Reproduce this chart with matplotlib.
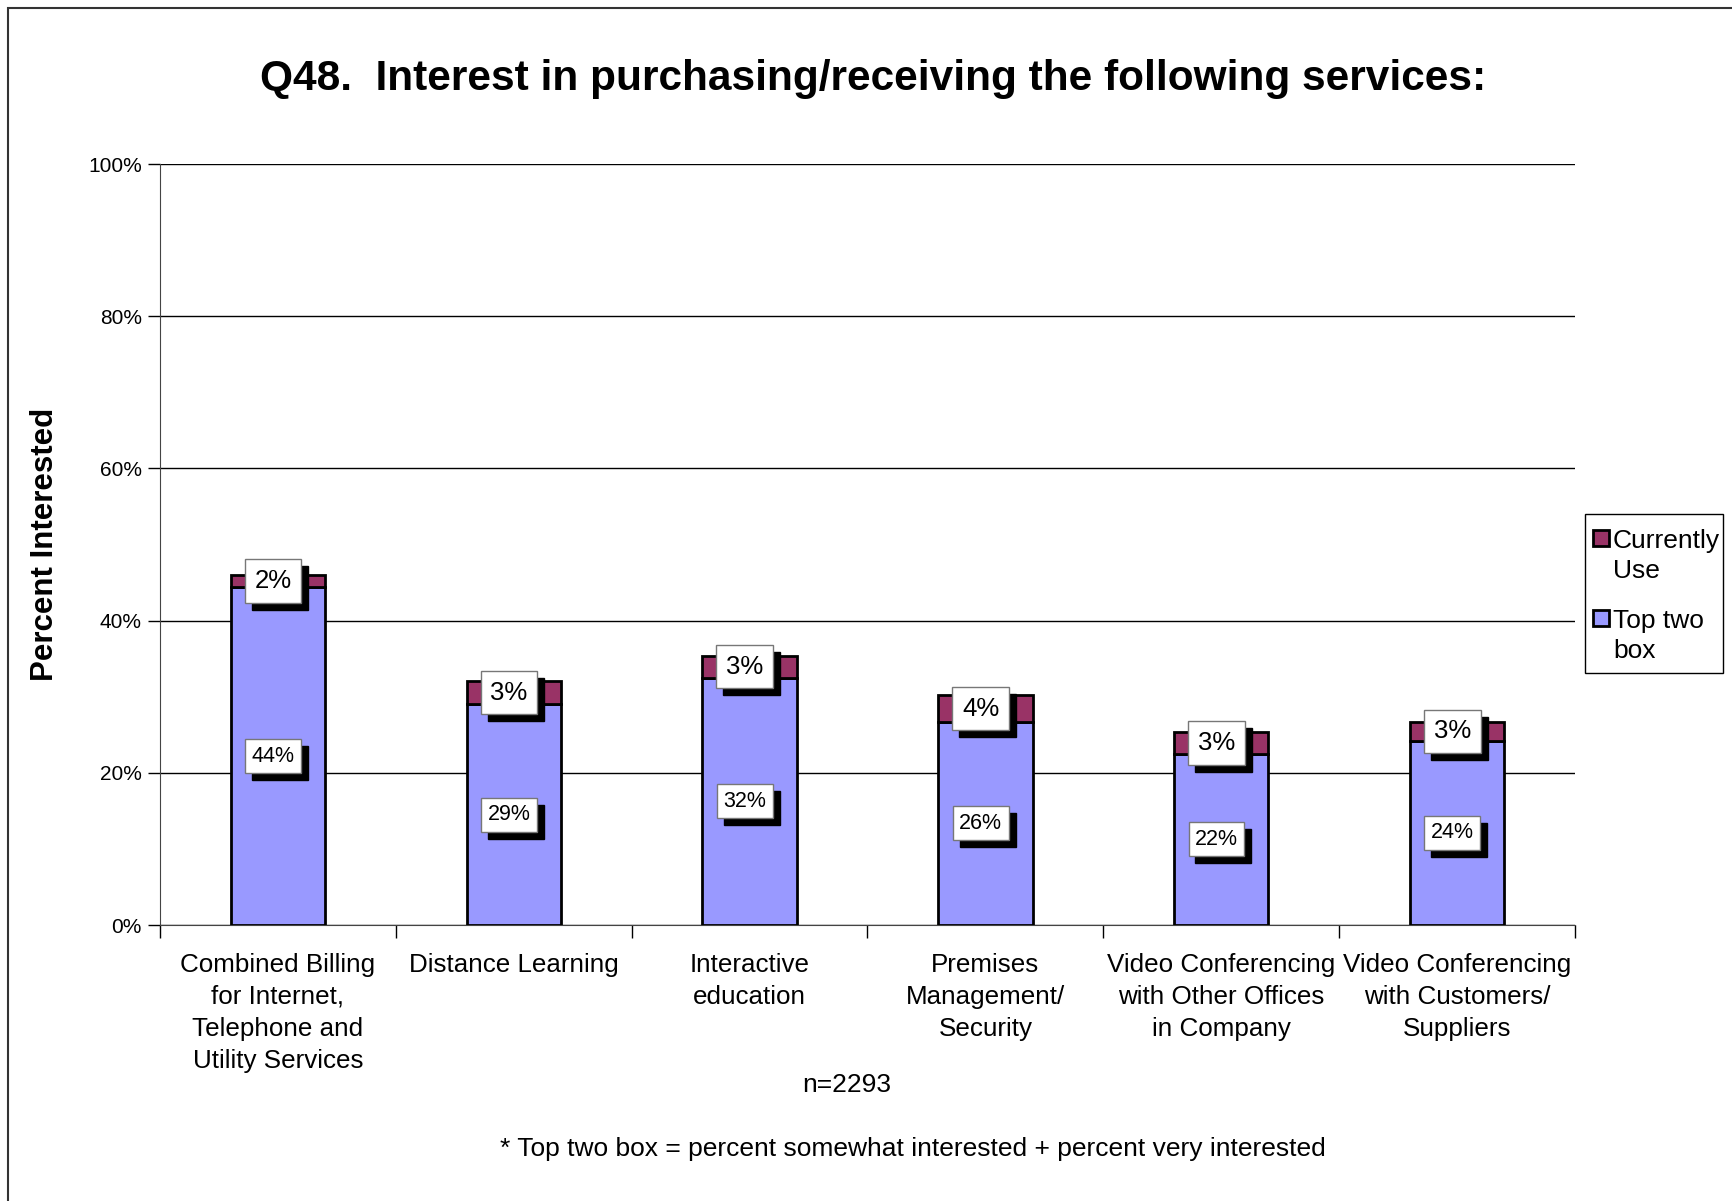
import matplotlib
matplotlib.use("Agg")
import matplotlib.pyplot as plt
import numpy as np
from matplotlib.patches import Rectangle

plt.rcParams['font.family'] = ['Liberation Sans', 'DejaVu Sans']

# data (percent)
categories = ['Combined Billing\nfor Internet,\nTelephone and\nUtility Services',
              'Distance Learning',
              'Interactive\neducation',
              'Premises\nManagement/\nSecurity',
              'Video Conferencing\nwith Other Offices\nin Company',
              'Video Conferencing\nwith Customers/\nSuppliers']
top_two = [44.4, 29.0, 32.5, 26.7, 22.5, 24.2]
currently_use = [1.6, 3.1, 2.9, 3.5, 2.8, 2.5]
top_two_labels = ['44%', '29%', '32%', '26%', '22%', '24%']
cu_labels = ['2%', '3%', '3%', '4%', '3%', '3%']
legend_labels = ['Currently\nUse', 'Top two\nbox']

blue = '#9999FF'
maroon = '#993366'

W, H = 1733, 1201
fig = plt.figure(figsize=(W / 100, H / 100), dpi=100)
ax = fig.add_axes([0.0923, 0.2298, 0.8165, 0.6336])

x = np.arange(len(categories))
w = 0.4
ax.bar(x, top_two, w, color=blue, edgecolor='black', linewidth=2, zorder=3)
ax.bar(x, currently_use, w, bottom=top_two, color=maroon, edgecolor='black', linewidth=2, zorder=3)

def boxed(xv, yv, txt, size, pad):
    # black drop shadow then white box
    ax.annotate(txt, (xv, yv), xytext=(5, -5), textcoords='offset points',
                ha='center', va='center', fontsize=size, color='black', zorder=4,
                bbox=dict(boxstyle='square,pad=%g' % pad, fc='black', ec='black'))
    ax.annotate(txt, (xv, yv), xytext=(0, 0), textcoords='offset points',
                ha='center', va='center', fontsize=size, color='black', zorder=5,
                bbox=dict(boxstyle='square,pad=%g' % pad, fc='white', ec='#777777', lw=1))

for i in range(len(categories)):
    boxed(x[i] - 0.02, top_two[i] / 2, top_two_labels[i], 15.5, 0.3)
    boxed(x[i] - 0.02, top_two[i] + currently_use[i] / 2, cu_labels[i], 18.5, 0.38)

ax.set_xlim(-0.5, len(categories) - 0.5)
ax.set_ylim(0, 100)
ax.set_yticks(np.arange(0, 101, 20))
ax.set_yticklabels(['%d%%' % v for v in range(0, 101, 20)], fontsize=15)
ax.yaxis.grid(True, color='black', linewidth=1, zorder=0)
ax.set_axisbelow(True)

ax.set_xticks(x)
ax.set_xticklabels(categories, fontsize=18.7, linespacing=1.42)
ax.tick_params(axis='x', length=0, pad=20)
ax.set_xticks(np.arange(-0.5, len(categories)), minor=True)
ax.tick_params(axis='x', which='minor', length=9, width=1, direction='out')
ax.tick_params(axis='y', length=9, width=1, direction='out', pad=4)

for s in ['top', 'right']:
    ax.spines[s].set_visible(False)
ax.spines['left'].set_color('#444444')
ax.spines['bottom'].set_color('#444444')

ax.set_ylabel('Percent Interested', fontsize=22.5, fontweight='bold', labelpad=20)

# legend drawn by hand so the swatch sits next to the first text line
def fx(px):
    return px / W

def fy(py):
    return 1 - py / H

fig.patches.append(Rectangle((fx(1585), fy(673)), fx(1723) - fx(1585), fy(514) - fy(673),
                             transform=fig.transFigure, fc='white', ec='black', lw=1))
for lab, col, top in zip(legend_labels, [maroon, blue], [530, 610]):
    fig.patches.append(Rectangle((fx(1593), fy(top + 16)), fx(16), 16 / H,
                                 transform=fig.transFigure, fc=col, ec='black', lw=2))
    fig.text(fx(1613), fy(top - 1), lab, ha='left', va='top', fontsize=19, linespacing=1.3)

fig.text(0.5041, 0.9345, 'Q48.  Interest in purchasing/receiving the following services:',
         ha='center', va='center', fontsize=30.5, fontweight='bold')
fig.text(0.4887, 0.0966, 'n=2293', ha='center', va='center', fontsize=19)
fig.text(0.5268, 0.0433, '* Top two box = percent somewhat interested + percent very interested',
         ha='center', va='center', fontsize=19)

# outer chart border (left and top edges visible)
fig.patches.append(Rectangle((8 / W, -0.1), 1.2, 1.1 - 8 / H,
                             transform=fig.transFigure, fill=False, ec='#333333', lw=1.5))

fig.savefig('out.png', dpi=100)
